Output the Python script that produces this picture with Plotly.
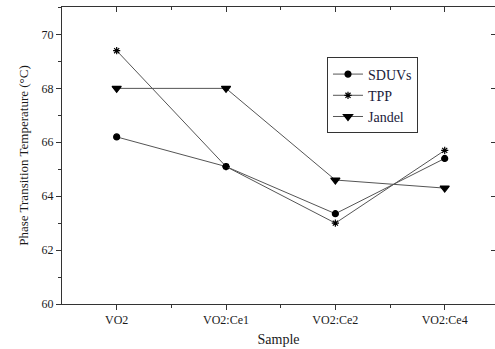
import plotly.graph_objects as go

samples = ["VO2", "VO2:Ce1", "VO2:Ce2", "VO2:Ce4"]
sduvs = [66.2, 65.1, 63.35, 65.4]
tpp = [69.4, 65.1, 63.0, 65.7]
jandel = [68.0, 68.0, 64.6, 64.3]

xpos = list(range(len(samples)))
font_family = "Liberation Serif, Times New Roman, serif"

fig = go.Figure()
series = [("SDUVs", sduvs, "circle", 6), ("TPP", tpp, "asterisk-open", 6), ("Jandel", jandel, "triangle-down", 8)]
for name, vals, sym, sz in series:
    fig.add_trace(go.Scatter(
        x=xpos, y=vals, name=name, mode="lines+markers",
        line=dict(color="#555555", width=1),
        marker=dict(symbol=sym, size=sz, color="black", line=dict(color="black", width=1.2)),
    ))

# invisible trace for mirrored axes
fig.add_trace(go.Scatter(x=[0], y=[60], xaxis="x2", yaxis="y2", mode="markers",
                         marker=dict(opacity=0), showlegend=False, hoverinfo="skip"))

xr = [-0.5, 3.46]
yr = [60, 71.02]
fig.update_layout(
    width=495, height=349,
    margin=dict(l=62, r=0, t=7, b=45),
    plot_bgcolor="white", paper_bgcolor="white",
    font=dict(family=font_family, color="#1a1a1a"),
    showlegend=True,
    legend=dict(x=0.612, y=0.83, xanchor="left", yanchor="top",
                bordercolor="#333333", borderwidth=1, bgcolor="white",
                font=dict(size=14, family=font_family, color="#1a1a3a"),
                itemwidth=30, tracegroupgap=0),
    xaxis=dict(range=xr, tickmode="array", tickvals=xpos, ticktext=samples,
               showgrid=False, zeroline=False, showline=True, linecolor="#333333", linewidth=1,
               ticks="outside", ticklen=5, tickcolor="#333333",
               minor=dict(tickvals=[0.5, 1.5, 2.5], ticks="outside", ticklen=3, tickcolor="#333333"),
               tickfont=dict(size=12, family=font_family),
               title=dict(text="Sample", font=dict(size=14, family=font_family), standoff=7)),
    yaxis=dict(range=yr, tickmode="array", tickvals=[60, 62, 64, 66, 68, 70],
               showgrid=False, zeroline=False, showline=True, linecolor="#333333", linewidth=1,
               ticks="outside", ticklen=5, tickcolor="#333333",
               minor=dict(tickvals=[61, 63, 65, 67, 69, 71], ticks="outside", ticklen=3, tickcolor="#333333"),
               tickfont=dict(size=12, family=font_family),
               title=dict(text="Phase Transition Temperature (°C)", font=dict(size=13, family=font_family), standoff=10)),
    xaxis2=dict(range=xr, overlaying="x", side="top", anchor="y2", tickmode="array", tickvals=xpos,
                showticklabels=False, showgrid=False, zeroline=False, showline=True,
                linecolor="#333333", linewidth=1, ticks="inside", ticklen=5, tickcolor="#333333",
                minor=dict(tickvals=[0.5, 1.5, 2.5], ticks="inside", ticklen=3, tickcolor="#333333")),
    yaxis2=dict(range=yr, overlaying="y", side="right", anchor="x2", tickmode="array",
                tickvals=[60, 62, 64, 66, 68, 70], showticklabels=False, showgrid=False,
                zeroline=False, showline=True, linecolor="#333333", linewidth=1,
                ticks="inside", ticklen=4, tickcolor="#333333"),
)

fig.write_html("out.html")
